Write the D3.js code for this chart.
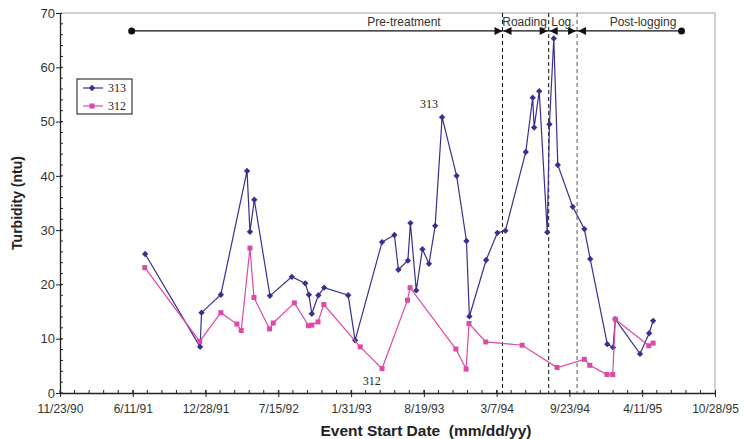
<!DOCTYPE html>
<html>
<head>
<meta charset="utf-8">
<script src="https://cdn.jsdelivr.net/npm/d3@7"></script>
<style>
  body { margin: 0; background: #fff; }
  svg text { font-family: "Liberation Sans", Arial, sans-serif; }
</style>
</head>
<body>
<div id="canvas"></div>
<script>
// station 313 (blue)
const dates313 = ['1991-07-15', '1991-12-13', '1991-12-17', '1992-02-08', '1992-04-20', '1992-04-28', '1992-05-10',
  '1992-06-22', '1992-08-21', '1992-09-27', '1992-10-07', '1992-10-15', '1992-11-02', '1992-11-18', '1993-01-23',
  '1993-02-11', '1993-04-26', '1993-05-30', '1993-06-10', '1993-07-06', '1993-07-13', '1993-07-29', '1993-08-15',
  '1993-09-02', '1993-09-19', '1993-10-08', '1993-11-17', '1993-12-14', '1993-12-22', '1994-02-06', '1994-03-09',
  '1994-03-31', '1994-05-26', '1994-06-14', '1994-06-18', '1994-07-02', '1994-07-24', '1994-07-30', '1994-08-11',
  '1994-08-22', '1994-10-02', '1994-11-03', '1994-11-19', '1995-01-05', '1995-01-21', '1995-01-27', '1995-04-05',
  '1995-04-30', '1995-05-11'];
const values313 = [25.6, 8.5, 14.8, 18.1, 40.9, 29.7, 35.6,
  17.9, 21.4, 20.2, 18.1, 14.6, 18.0, 19.4, 18.0,
  9.7, 27.8, 29.1, 22.7, 24.4, 31.3, 18.9, 26.5,
  23.8, 30.8, 50.8, 40.0, 28.0, 14.1, 24.5, 29.5,
  29.9, 44.4, 54.4, 48.9, 55.6, 29.6, 49.5, 65.3,
  42.0, 34.3, 30.2, 24.7, 9.0, 8.4, 13.6, 7.2,
  11.0, 13.3];

// station 312 (pink)
const dates312 = ['1991-07-14', '1991-12-12', '1992-02-08', '1992-03-23', '1992-04-04', '1992-04-28', '1992-05-09',
  '1992-06-21', '1992-07-01', '1992-08-28', '1992-10-06', '1992-10-15', '1992-11-01', '1992-11-17', '1993-02-25',
  '1993-04-26', '1993-07-05', '1993-07-12', '1993-11-15', '1993-12-13', '1993-12-21', '1994-02-05', '1994-05-16',
  '1994-08-20', '1994-11-03', '1994-11-18', '1995-01-04', '1995-01-20', '1995-01-27', '1995-04-29', '1995-05-11'];
const values312 = [23.1, 9.5, 14.8, 12.7, 11.5, 26.7, 17.6,
  11.8, 12.9, 16.6, 12.4, 12.5, 13.1, 16.3, 8.5,
  4.5, 17.1, 19.4, 8.1, 4.4, 12.8, 9.4, 8.8,
  4.7, 6.2, 5.1, 3.4, 3.4, 13.6, 8.7, 9.2];

const xTickLabels = ['11/23/90', '6/11/91', '12/28/91', '7/15/92', '1/31/93', '8/19/93', '3/7/94', '9/23/94', '4/11/95', '10/28/95'];
const yTicks = [0, 10, 20, 30, 40, 50, 60, 70];

// treatment phases: start, roading, logging, post-logging, end
const phaseDates = ['1991-06-08', '1994-03-23', '1994-07-28', '1994-10-14', '1995-07-28'];
const phaseLabels = ['Pre-treatment', 'Roading', 'Log.', 'Post-logging'];
const phaseLevel = 66.7;

const w = 744;
const h = 439;
const padL = 60, padR = 715, padT = 13, padB = 393;
const blue = '#3a2f8f';
const pink = '#dc4aa6';

const parseIso = d3.utcParse('%Y-%m-%d');
const parseTick = d3.utcParse('%m/%d/%y');
const tickDates = xTickLabels.map(parseTick);

const s313 = dates313.map((d, i) => [parseIso(d), values313[i]]);
const s312 = dates312.map((d, i) => [parseIso(d), values312[i]]);

const xScale = d3.scaleUtc()
  .domain([tickDates[0], tickDates[tickDates.length - 1]])
  .range([padL, padR]);

const yScale = d3.scaleLinear()
  .domain([0, 70])
  .range([padB, padT]);

const svg = d3.select('#canvas')
  .append('svg')
  .attr('width', w)
  .attr('height', h);

// grey frame top + right
svg.append('path')
  .attr('d', `M${padL},${padT}H${padR}V${padB}`)
  .attr('fill', 'none')
  .attr('stroke', '#c4c0bc')
  .attr('stroke-width', 1.5);

// minor ticks
const minorX = d3.range(0, 1800, 40).map(d => d3.utcDay.offset(tickDates[0], d));
svg.append('g')
  .selectAll('line')
  .data(minorX)
  .enter()
  .append('line')
  .attr('x1', d => xScale(d)).attr('x2', d => xScale(d))
  .attr('y1', padB).attr('y2', padB - 3)
  .attr('stroke', '#222');

svg.append('g')
  .selectAll('line')
  .data(d3.range(0, 70, 2))
  .enter()
  .append('line')
  .attr('x1', padL).attr('x2', padL + 3)
  .attr('y1', d => yScale(d)).attr('y2', d => yScale(d))
  .attr('stroke', '#222');

const xAxis = d3.axisBottom(xScale)
  .tickValues(tickDates)
  .tickFormat((d, i) => xTickLabels[i])
  .tickSizeInner(4)
  .tickSizeOuter(0);

const gx = svg.append('g')
  .attr('transform', `translate(0,${padB})`)
  .call(xAxis);
gx.selectAll('.tick line').attr('y1', -3).attr('stroke', '#222');
gx.select('.domain').attr('stroke', '#222').attr('stroke-width', 1.3);
gx.selectAll('text').attr('font-size', 12).attr('fill', '#333').attr('dy', '1.05em');

const yAxis = d3.axisLeft(yScale)
  .tickValues(yTicks)
  .tickSizeInner(4)
  .tickSizeOuter(0);

const gy = svg.append('g')
  .attr('transform', `translate(${padL},0)`)
  .call(yAxis);
gy.selectAll('.tick line').attr('x1', 2).attr('stroke', '#222');
gy.select('.domain').attr('stroke', '#222').attr('stroke-width', 1.3);
gy.selectAll('text').attr('font-size', 13).attr('fill', '#333').attr('x', -5);

// axis titles
svg.append('text')
  .attr('x', 426)
  .attr('y', 436)
  .attr('text-anchor', 'middle')
  .attr('font-size', 15.5)
  .attr('font-weight', 'bold')
  .attr('fill', '#222')
  .style('white-space', 'pre')
  .text('Event Start Date  (mm/dd/yy)');

svg.append('text')
  .attr('transform', `translate(22,${(padT + padB) / 2}) rotate(-90)`)
  .attr('text-anchor', 'middle')
  .attr('font-size', 14)
  .attr('font-weight', 'bold')
  .attr('fill', '#222')
  .text('Turbidity (ntu)');

// phase boundaries
const phase = phaseDates.map(parseIso);
svg.append('g')
  .selectAll('line')
  .data(phase.slice(1, 4))
  .enter()
  .append('line')
  .attr('x1', d => xScale(d)).attr('x2', d => xScale(d))
  .attr('y1', padT).attr('y2', padB)
  .attr('stroke', (d, i) => i === 2 ? '#555' : '#111')
  .attr('stroke-dasharray', '4,3');

const py = yScale(phaseLevel);
const px = phase.map(d => xScale(d));

function arrowHead(x, dir) {
  // dir 1 = points right, -1 = points left
  svg.append('path')
    .attr('d', `M${x},${py}L${x - dir * 8},${py - 4}L${x - dir * 8},${py + 4}Z`)
    .attr('fill', '#111');
}

svg.append('line')
  .attr('x1', px[0]).attr('x2', px[4])
  .attr('y1', py).attr('y2', py)
  .attr('stroke', '#111').attr('stroke-width', 1.2);

arrowHead(px[1], 1);
arrowHead(px[1] + 1, -1);
arrowHead(px[2] - 1, 1);
arrowHead(px[2] + 1, -1);
arrowHead(px[3] - 1, 1);
arrowHead(px[3] + 1, -1);

svg.selectAll('circle.end')
  .data([px[0], px[4]])
  .enter()
  .append('circle')
  .attr('class', 'end')
  .attr('cx', d => d).attr('cy', py).attr('r', 3.5)
  .attr('fill', '#111');

const labelX = [404, (px[1] + px[2]) / 2 - 1, (px[2] + px[3]) / 2, 643];
svg.selectAll('text.phase')
  .data(phaseLabels)
  .enter()
  .append('text')
  .attr('class', 'phase')
  .attr('x', (d, i) => labelX[i])
  .attr('y', py - 5)
  .attr('text-anchor', 'middle')
  .attr('font-size', 12)
  .attr('fill', '#333')
  .text(d => d);

// series
const line = d3.line()
  .x(d => xScale(d[0]))
  .y(d => yScale(d[1]));

const diamond = d3.symbol(d3.symbolSquare, 20);

svg.append('path')
  .datum(s313)
  .attr('d', line)
  .attr('fill', 'none')
  .attr('stroke', blue)
  .attr('stroke-width', 1.2);

svg.selectAll('path.m313')
  .data(s313)
  .enter()
  .append('path')
  .attr('class', 'm313')
  .attr('d', diamond)
  .attr('transform', d => `translate(${xScale(d[0])},${yScale(d[1])}) rotate(45)`)
  .attr('fill', blue);

svg.append('path')
  .datum(s312)
  .attr('d', line)
  .attr('fill', 'none')
  .attr('stroke', pink)
  .attr('stroke-width', 1.2);

svg.selectAll('rect.m312')
  .data(s312)
  .enter()
  .append('rect')
  .attr('class', 'm312')
  .attr('x', d => xScale(d[0]) - 2.5)
  .attr('y', d => yScale(d[1]) - 2.5)
  .attr('width', 5)
  .attr('height', 5)
  .attr('fill', pink);

// series callouts
svg.append('text')
  .attr('x', xScale(parseIso('1993-09-02')))
  .attr('y', yScale(52.5))
  .attr('text-anchor', 'middle')
  .style('font-family', '"Liberation Serif", "Times New Roman", serif')
  .attr('font-size', 12)
  .attr('fill', '#222')
  .text('313');

svg.append('text')
  .attr('x', xScale(parseIso('1993-03-29')))
  .attr('y', yScale(1.5))
  .attr('text-anchor', 'middle')
  .style('font-family', '"Liberation Serif", "Times New Roman", serif')
  .attr('font-size', 12)
  .attr('fill', '#222')
  .text('312');

// legend
const legend = svg.append('g').attr('transform', 'translate(77,79)');
legend.append('rect')
  .attr('width', 55).attr('height', 35)
  .attr('fill', '#fff').attr('stroke', '#111');

const legendItems = [['313', blue], ['312', pink]];
legendItems.forEach((it, i) => {
  const yy = 9 + i * 18;
  legend.append('line')
    .attr('x1', 6).attr('x2', 26).attr('y1', yy).attr('y2', yy)
    .attr('stroke', it[1]).attr('stroke-width', 1.2);
  if (i === 0) {
    legend.append('path')
      .attr('d', diamond)
      .attr('transform', `translate(15,${yy}) rotate(45)`)
      .attr('fill', it[1]);
  } else {
    legend.append('rect')
      .attr('x', 12.5).attr('y', yy - 2.5).attr('width', 5).attr('height', 5)
      .attr('fill', it[1]);
  }
  legend.append('text')
    .attr('x', 31).attr('y', yy + 4)
    .style('font-family', '"Liberation Serif", "Times New Roman", serif')
    .attr('font-size', 12)
    .attr('fill', '#222')
    .text(it[0]);
});
</script>
</body>
</html>
